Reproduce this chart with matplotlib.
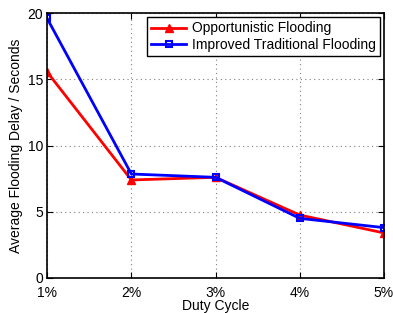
import matplotlib
matplotlib.use('Agg')
import matplotlib.pyplot as plt

duty_labels = ['1%', '2%', '3%', '4%', '5%']
opportunistic = [15.55, 7.4, 7.6, 4.75, 3.4]
improved = [19.6, 7.85, 7.6, 4.5, 3.8]

plt.rcParams['font.family'] = ['Liberation Sans', 'DejaVu Sans']
plt.rcParams['font.size'] = 10

fig = plt.figure(figsize=(3.93, 3.13), dpi=100)
ax = fig.add_axes([0.12, 0.112, 0.857, 0.846])

x = list(range(1, len(duty_labels) + 1))
ax.plot(x, opportunistic, color='red', marker='^', linewidth=2, markersize=6,
        label='Opportunistic Flooding')
ax.plot(x, improved, color='blue', marker='s', linewidth=2, markersize=5,
        markerfacecolor='none', markeredgewidth=1.5, label='Improved Traditional Flooding')

ax.set_xlim(1, 5)
ax.set_ylim(0, 20)
ax.set_xticks(x)
ax.set_xticklabels(duty_labels)
ax.set_yticks([0, 5, 10, 15, 20])
ax.tick_params(direction='in', top=True, right=True, length=4)
ax.tick_params(axis='x', pad=6)
ax.tick_params(axis='y', pad=3)
ax.grid(True, linestyle=(0, (1, 3)), color='gray', linewidth=0.8)
ax.set_xlabel('Duty Cycle', labelpad=-1)
ax.set_ylabel('Average Flooding Delay / Seconds', labelpad=3)
for s in ax.spines.values():
    s.set_linewidth(1.2)

leg = ax.legend(loc='upper right', fancybox=False, edgecolor='black',
                framealpha=1, borderpad=0.3, labelspacing=0.2,
                handlelength=2.5, handletextpad=0.4, borderaxespad=0.3)
leg.get_frame().set_linewidth(1.0)

fig.savefig('out.png', dpi=100)
